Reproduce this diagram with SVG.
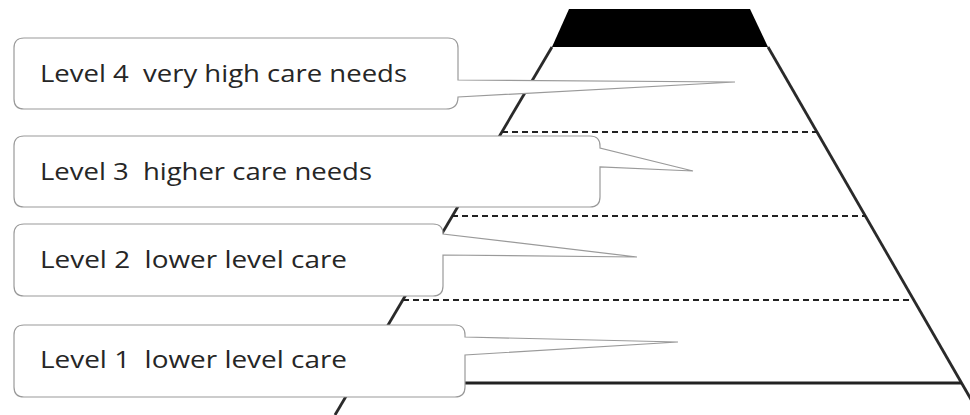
<svg xmlns="http://www.w3.org/2000/svg" width="970" height="415" viewBox="0 0 970 415">
<style>
.edge{stroke:#2a2a2a;stroke-width:2.8;fill:none}
.dash{stroke:#222;stroke-width:2;stroke-dasharray:6 4;fill:none}
.box{fill:#fff;stroke:#9a9a9a;stroke-width:1.2}
.lbl{font-family:"Open Sans","Liberation Sans",sans-serif;font-size:23px;fill:#262626;white-space:pre}
</style>
<rect width="970" height="415" fill="#fff"/>
<g id="pyramid">
<polygon points="569,9 750,9 768,47 552,47" fill="#000"/>
<line class="edge" x1="552" y1="47" x2="335" y2="415"/>
<line class="edge" x1="768" y1="47" x2="980" y2="415"/>
<line class="dash" x1="502" y1="132" x2="817" y2="132"/>
<line class="dash" x1="452" y1="216" x2="866" y2="216"/>
<line class="dash" x1="403" y1="300" x2="914" y2="300"/>
<line x1="354" y1="383" x2="962" y2="383" stroke="#222" stroke-width="3.2"/>
</g>
<g id="level4">
<path class="box" d="M24,38 H448 Q458,38 458,48 V80 L735,82 L458,97 Q458,109 446,109 H24 Q14,109 14,99 V48 Q14,38 24,38 Z"/>
<text class="lbl" x="40" y="82" textLength="367" lengthAdjust="spacingAndGlyphs" xml:space="preserve">Level 4  very high care needs</text>
</g>
<g id="level3">
<path class="box" d="M24,136 H590 Q600,136 600,146 V148 L693,171 L600,167 V197 Q600,207 590,207 H24 Q14,207 14,197 V146 Q14,136 24,136 Z"/>
<text class="lbl" x="40" y="180" textLength="332" lengthAdjust="spacingAndGlyphs" xml:space="preserve">Level 3  higher care needs</text>
</g>
<g id="level2">
<path class="box" d="M24,224 H433 Q443,224 443,234 L637,257 L443,255 V286 Q443,296 433,296 H24 Q14,296 14,286 V234 Q14,224 24,224 Z"/>
<text class="lbl" x="40" y="268" textLength="307" lengthAdjust="spacingAndGlyphs" xml:space="preserve">Level 2  lower level care</text>
</g>
<g id="level1">
<path class="box" d="M24,325 H455 Q465,325 465,335 V337 L678,342 L465,355 V387 Q465,397 455,397 H24 Q14,397 14,387 V335 Q14,325 24,325 Z"/>
<text class="lbl" x="40" y="368" textLength="307" lengthAdjust="spacingAndGlyphs" xml:space="preserve">Level 1  lower level care</text>
</g>
</svg>
